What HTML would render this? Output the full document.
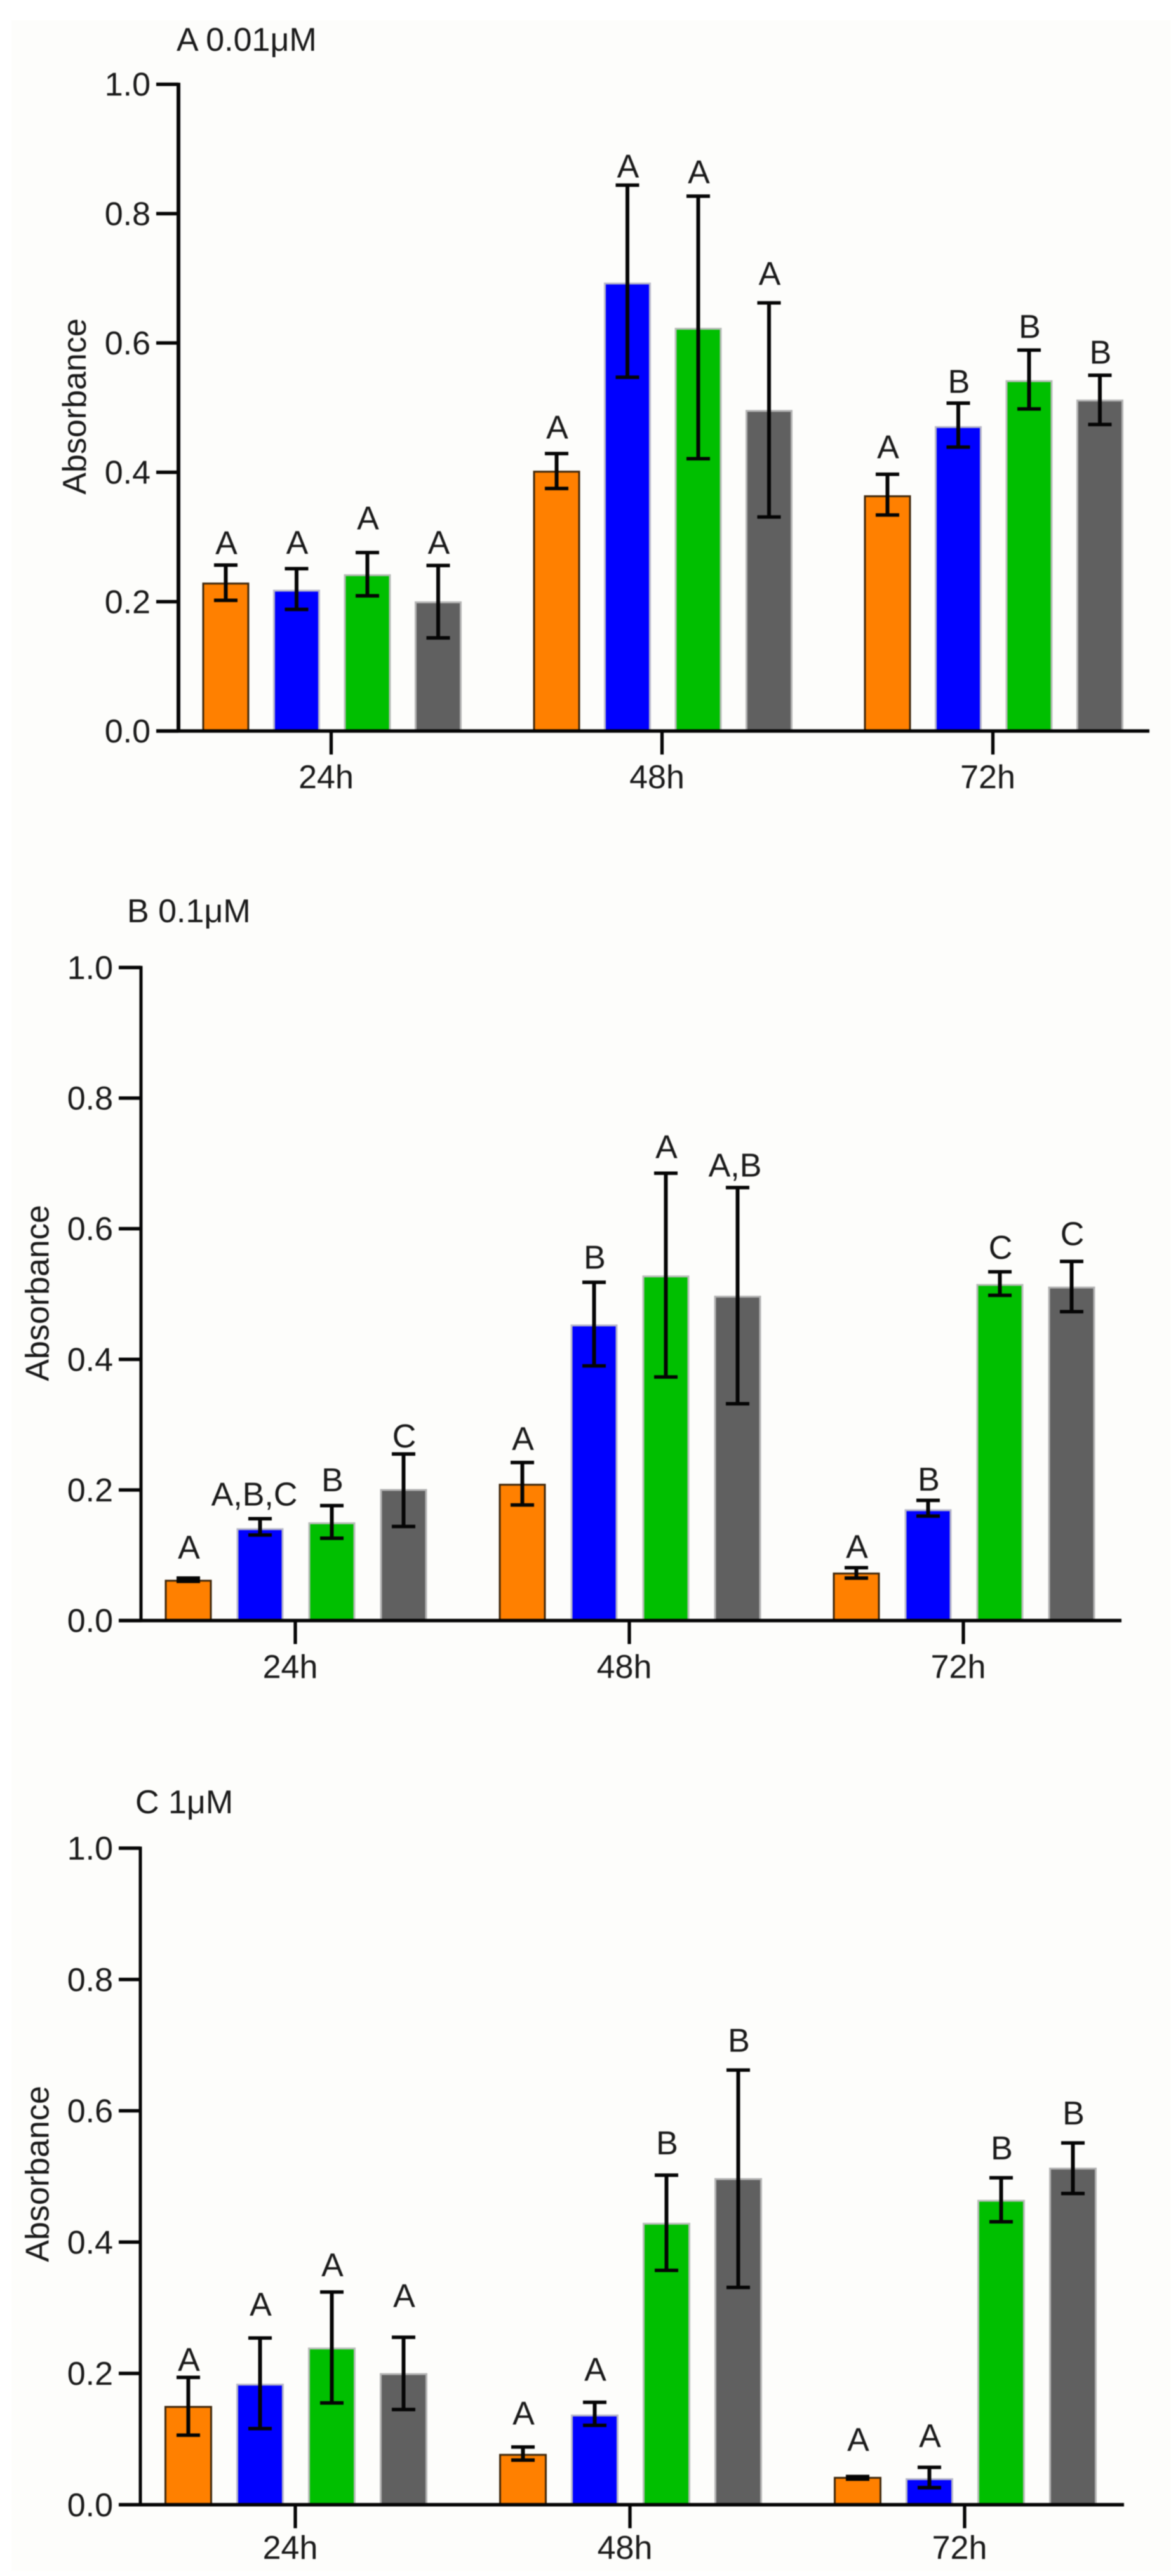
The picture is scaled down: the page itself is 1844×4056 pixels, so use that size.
<!DOCTYPE html>
<html lang="en">
<head>
<meta charset="utf-8">
<title>Absorbance at three concentrations</title>
<style>
html,body{margin:0;padding:0;background:#ffffff;overflow:hidden;}
svg{display:block;filter:blur(0.7px);}
text{font-family:"Liberation Sans",sans-serif;fill:#1a1a1a;}
</style>
</head>
<body>
<svg id="figure" xmlns="http://www.w3.org/2000/svg" width="1844" height="4056" viewBox="0 0 1844 4056">
  <rect x="18" y="32" width="1830" height="4016" fill="#fdfdfb"></rect>
</svg>
<script>
// ---- chart data (absorbance units) ----
const categories = ['24h', '48h', '72h'];
const seriesNames = ['orange', 'blue', 'green', 'gray'];
const tickValues = [0, 0.2, 0.4, 0.6, 0.8, 1.0];
const tickLabels = ['0.0', '0.2', '0.4', '0.6', '0.8', '1.0'];
const axisTitle = 'Absorbance';

const titleA = 'A 0.01μM';
const meansA = [0.228, 0.217, 0.241, 0.199, 0.401, 0.692, 0.622, 0.495, 0.363, 0.470, 0.541, 0.511];
const upperA = [0.2565, 0.251, 0.276, 0.256, 0.429, 0.844, 0.827, 0.662, 0.397, 0.507, 0.589, 0.550];
const lowerA = [0.202, 0.188, 0.209, 0.144, 0.375, 0.547, 0.421, 0.331, 0.334, 0.439, 0.498, 0.474];
const lettersA = ['A', 'A', 'A', 'A', 'A', 'A', 'A', 'A', 'A', 'B', 'B', 'B'];
const clearanceA = [0.017, 0.023, 0.036, 0.018, 0.023, 0.012, 0.020, 0.028, 0.025, 0.016, 0.019, 0.018];

const titleB = 'B 0.1μM';
const meansB = [0.061, 0.140, 0.149, 0.200, 0.208, 0.452, 0.527, 0.496, 0.072, 0.169, 0.514, 0.510];
const upperB = [0.065, 0.156, 0.176, 0.255, 0.242, 0.518, 0.685, 0.663, 0.081, 0.184, 0.534, 0.550];
const lowerB = [0.060, 0.131, 0.126, 0.144, 0.177, 0.390, 0.373, 0.332, 0.065, 0.160, 0.498, 0.473];
const lettersB = ['A', 'A,B,C', 'B', 'C', 'A', 'B', 'A', 'A,B', 'A', 'B', 'C', 'C'];
const clearanceB = [0.030, 0.020, 0.022, 0.010, 0.019, 0.021, 0.023, 0.017, 0.015, 0.015, 0.020, 0.025];

const titleC = 'C 1μM';
const meansC = [0.149, 0.183, 0.238, 0.199, 0.076, 0.136, 0.428, 0.496, 0.041, 0.039, 0.463, 0.512];
const upperC = [0.194, 0.254, 0.324, 0.255, 0.088, 0.156, 0.502, 0.662, 0.043, 0.057, 0.498, 0.551];
const lowerC = [0.106, 0.116, 0.155, 0.145, 0.068, 0.121, 0.357, 0.331, 0.039, 0.026, 0.431, 0.474];
const lettersC = ['A', 'A', 'A', 'A', 'A', 'A', 'B', 'B', 'A', 'A', 'B', 'B'];
const clearanceC = [0.010, 0.034, 0.024, 0.046, 0.034, 0.033, 0.032, 0.028, 0.039, 0.031, 0.028, 0.028];

// ---- drawing ----
const NS = 'http://www.w3.org/2000/svg';
const svg = document.getElementById('figure');
const FONT_SIZE = 52;
const fills = ['#ff8000', '#0000ff', '#00bf00', '#606060'];
const edges = ['#40280c', '#b8b8c8', '#b8bcb8', '#b4b4b4'];

function make(parent, tag, attrs) {
  const el = document.createElementNS(NS, tag);
  for (const k in attrs) el.setAttribute(k, attrs[k]);
  parent.appendChild(el);
  return el;
}

function label(parent, str, x, y, anchor, rotate) {
  const el = make(parent, 'text', {
    'font-size': FONT_SIZE,
    'text-anchor': anchor,
    transform: 'translate(' + x + ' ' + y + ')' + (rotate ? ' rotate(-90)' : '')
  });
  el.textContent = str;
  return el;
}

function drawPanel(p) {
  const g = make(svg, 'g', {});
  
  

  const yScale = v => p.baseY - v * (p.baseY - p.topY);
  const barX = (group, s) => p.startX + group * p.groupStep + s * p.barStep;

  const title = label(g, p.title, p.titleX, p.titleY, 'start', false);
  
  

  const yTitle = label(g, axisTitle, p.yTitleX, p.yTitleY, 'middle', true);
  
  

  // bars
  p.means.forEach((v, i) => {
    const group = Math.floor(i / seriesNames.length);
    const s = i % seriesNames.length;
    const x = barX(group, s);
    const bar = make(g, 'rect', {
      x: x, y: yScale(v), width: p.barW, height: p.baseY - yScale(v),
      fill: fills[s], stroke: edges[s], 'stroke-width': 3
    });
    
    
  });

  // error bars and significance letters
  p.means.forEach((v, i) => {
    const group = Math.floor(i / seriesNames.length);
    const s = i % seriesNames.length;
    const cx = barX(group, s) + p.barW / 2;
    const yHi = yScale(p.upper[i]);
    const yLo = yScale(p.lower[i]);

    const err = make(g, 'path', {
      d: 'M' + cx + ' ' + yHi + 'V' + yLo,
      stroke: '#050505', 'stroke-width': 6, fill: 'none'
    });
    
    

    const caps = make(g, 'path', {
      d: 'M' + (cx - 18.5) + ' ' + yHi + 'h37M' + (cx - 18.5) + ' ' + yLo + 'h37',
      stroke: '#050505', 'stroke-width': 5.5, fill: 'none'
    });
    
    

    const str = p.letters[i];
    const lx = cx - (str.length - 1) * 2.5 + 1;
    const letter = label(g, str, lx, yScale(p.upper[i] + p.clearance[i]), 'middle', false);
    
    
  });

  // y axis
  const yAxis = make(g, 'line', {
    x1: p.axisX, x2: p.axisX, y1: yScale(1) - 2.5, y2: p.baseY + 2.5,
    stroke: '#050505', 'stroke-width': p.yAxisW
  });
  
  

  tickValues.forEach((v, i) => {
    const tick = make(g, 'line', {
      x1: p.tickLeft, x2: p.axisX, y1: yScale(v), y2: yScale(v),
      stroke: '#050505', 'stroke-width': 5.5
    });
    
    

    const txt = label(g, tickLabels[i], p.tickTextX, yScale(v) + 18, 'end', false);
    
    
  });

  // x axis
  const xAxis = make(g, 'line', {
    x1: p.tickLeft, x2: p.axisEnd, y1: p.baseY, y2: p.baseY,
    stroke: '#050505', 'stroke-width': 5.5
  });
  
  

  categories.forEach((c, i) => {
    const tx = p.catTickX + i * p.groupStep;
    const tick = make(g, 'line', {
      x1: tx, x2: tx, y1: p.baseY, y2: p.baseY + 37,
      stroke: '#050505', 'stroke-width': 5.3
    });
    
    

    const txt = label(g, c, tx - 8, p.catTextY, 'middle', false);
    
    
  });
}

drawPanel({
  id: 'a', title: titleA, means: meansA, upper: upperA, lower: lowerA, letters: lettersA, clearance: clearanceA,
  titleX: 278, titleY: 80, yTitleX: 135, yTitleY: 640,
  topY: 132.7, baseY: 1151, axisX: 281, axisEnd: 1810, tickLeft: 246, tickTextX: 237, yAxisW: 6,
  startX: 320, groupStep: 521, barStep: 111.5, barW: 71, catTickX: 521.5, catTextY: 1241
});
drawPanel({
  id: 'b', title: titleB, means: meansB, upper: upperB, lower: lowerB, letters: lettersB, clearance: clearanceB,
  titleX: 200, titleY: 1452, yTitleX: 76.5, yTitleY: 2036,
  topY: 1523.4, baseY: 2551.6, axisX: 222, axisEnd: 1766, tickLeft: 187, tickTextX: 178, yAxisW: 5,
  startX: 261, groupStep: 526, barStep: 113, barW: 71, catTickX: 465, catTextY: 2642
});
drawPanel({
  id: 'c', title: titleC, means: meansC, upper: upperC, lower: lowerC, letters: lettersC, clearance: clearanceC,
  titleX: 213, titleY: 2855, yTitleX: 76.5, yTitleY: 3423,
  topY: 2910, baseY: 3943.8, axisX: 221, axisEnd: 1770, tickLeft: 187, tickTextX: 178, yAxisW: 5,
  startX: 260.5, groupStep: 527, barStep: 113, barW: 72, catTickX: 465, catTextY: 4029
});
</script>
</body>
</html>
